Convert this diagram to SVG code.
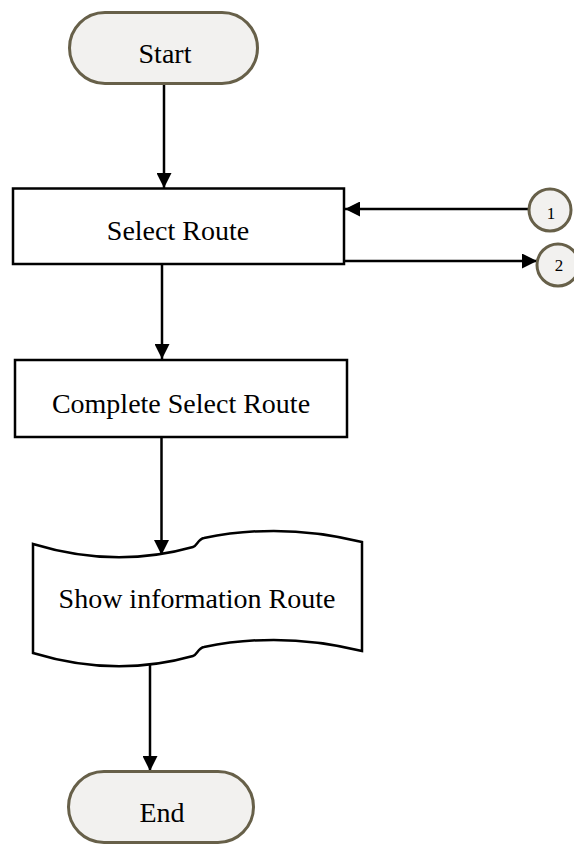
<svg xmlns="http://www.w3.org/2000/svg" width="574" height="847" viewBox="0 0 574 847">
<defs>
<style>
.term{fill:#f2f1ef;stroke:#676049;stroke-width:3}
.box{fill:#ffffff;stroke:#000;stroke-width:2.5}
.conn{fill:none;stroke:#000;stroke-width:2.5}
.lbl{font-family:"Liberation Serif","Times New Roman",serif;font-size:28px;fill:#000;text-anchor:middle}
.num{font-family:"Liberation Serif","Times New Roman",serif;font-size:17px;fill:#000;text-anchor:middle}
</style>
<marker id="arr" markerUnits="userSpaceOnUse" markerWidth="15" markerHeight="15" refX="15" refY="7.5" orient="auto">
<path d="M0,0 L15,7.5 L0,15 Z" fill="#000"/>
</marker>
</defs>
<rect width="574" height="847" fill="#fff"/>
<g id="connectors">
<line class="conn" x1="164" y1="85" x2="164" y2="188" marker-end="url(#arr)"/>
<line class="conn" x1="162" y1="264" x2="162" y2="359" marker-end="url(#arr)"/>
<line class="conn" x1="161.5" y1="437" x2="161.5" y2="555" marker-end="url(#arr)"/>
<line class="conn" x1="150" y1="665" x2="150" y2="771" marker-end="url(#arr)"/>
<line class="conn" x1="529" y1="209" x2="345" y2="209" marker-end="url(#arr)"/>
<line class="conn" x1="344" y1="261" x2="537" y2="261" marker-end="url(#arr)"/>
</g>
<g id="start">
<rect class="term" x="69.5" y="12.5" width="188" height="71" rx="35.5"/>
<text class="lbl" x="165" y="63">Start</text>
</g>
<g id="select-route">
<rect class="box" x="13" y="188.5" width="331" height="75.5"/>
<text class="lbl" x="178" y="240">Select Route</text>
</g>
<g id="connector-1">
<circle class="term" cx="550" cy="210" r="21"/>
<text class="num" x="551" y="219">1</text>
</g>
<g id="connector-2">
<circle class="term" cx="558" cy="265" r="21"/>
<text class="num" x="559" y="271">2</text>
</g>
<g id="complete-select-route">
<rect class="box" x="15" y="360" width="332" height="77"/>
<text class="lbl" x="181" y="413">Complete Select Route</text>
</g>
<g id="show-information-route">
<path class="box" d="M33,544 Q115,569 193,547 C197,546 198,539 204,538 Q282,522 362,542 L362,651 Q282,631 204,647 C198,648 197,655 193,656 Q115,678 33,653 Z"/>
<text class="lbl" x="197" y="608">Show information Route</text>
</g>
<g id="end">
<rect class="term" x="68.5" y="771.5" width="185" height="71" rx="35.5"/>
<text class="lbl" x="162" y="822">End</text>
</g>
</svg>
